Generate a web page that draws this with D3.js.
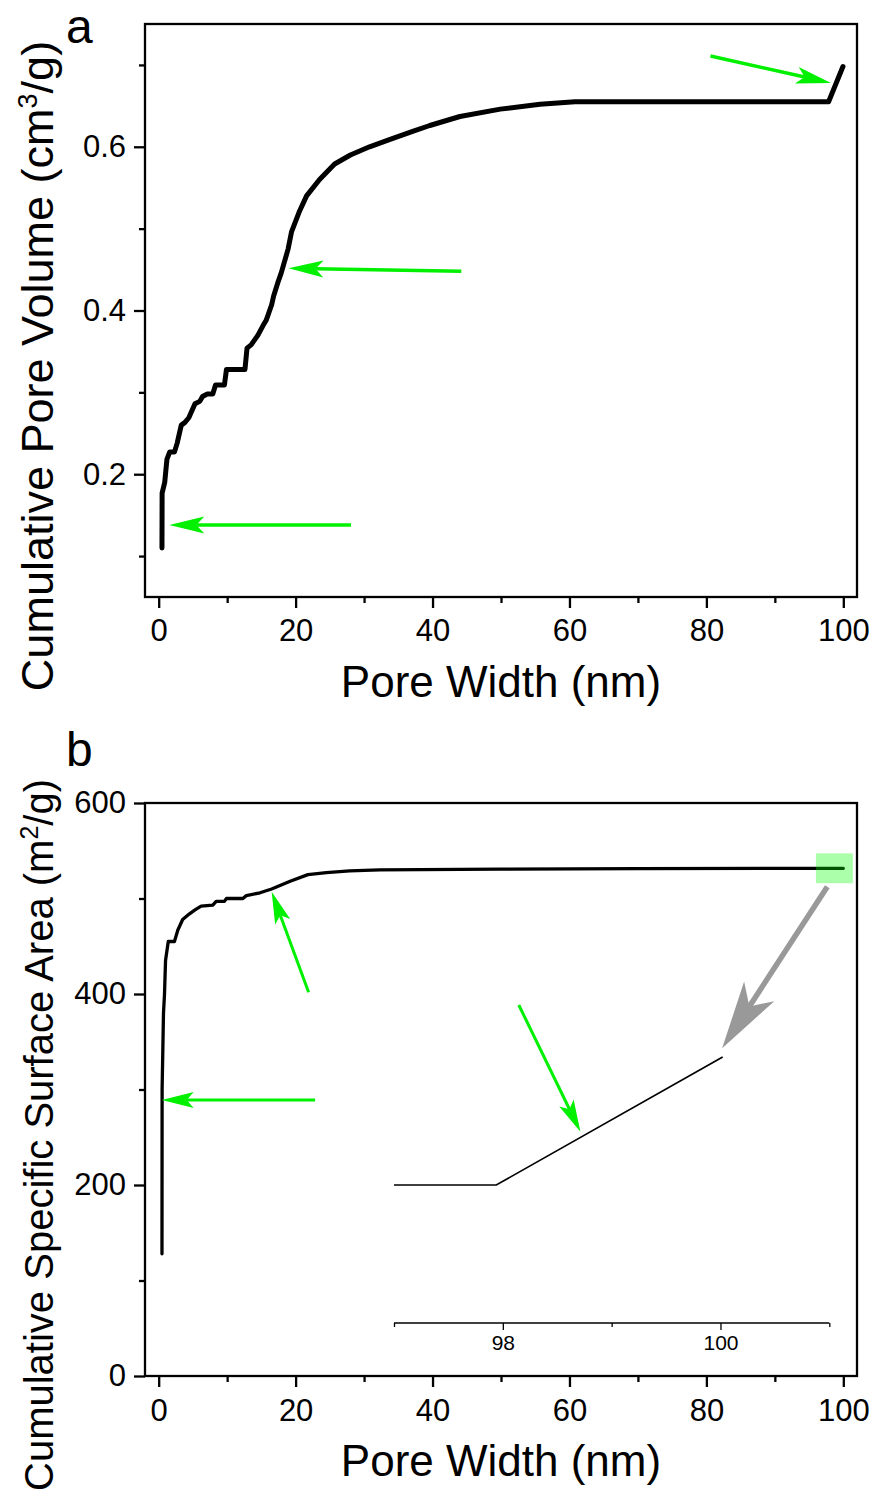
<!DOCTYPE html>
<html lang="en">
<head>
<meta charset="UTF-8">
<title>Pore volume and surface area</title>
<style>
  body { margin: 0; padding: 0; background: #fff; }
  svg text { font-family: "Liberation Sans", Arial, sans-serif; fill: #000; }
</style>
</head>
<body>
<script src="https://d3js.org/d3.v7.min.js"></script>
<script>
// panel a : cumulative pore volume
const widthA = [0.48, 0.5, 0.88, 1.2, 1.6, 2.3, 2.7, 3.3, 3.8, 4.4, 5.3, 6.0, 6.4, 7.1, 7.9, 8.3, 9.6, 9.9,
  12.6, 12.9, 13.5, 14.5, 15.2, 15.7, 16.5, 16.8, 17.4, 17.9, 18.9, 19.4, 20.5, 21.6, 23.5, 25.7, 28,
  30.8, 33.8, 37.2, 39.6, 44, 49.9, 55.7, 60.8, 97.85, 99.95];
const volumeA = [0.11, 0.177, 0.19, 0.218, 0.227, 0.227, 0.238, 0.26, 0.263, 0.269, 0.286, 0.289, 0.295,
  0.298, 0.298, 0.309, 0.309, 0.328, 0.328, 0.354, 0.358, 0.37, 0.381, 0.388, 0.407, 0.418, 0.434, 0.446,
  0.475, 0.496, 0.52, 0.54, 0.56, 0.579, 0.59, 0.6, 0.609, 0.619, 0.626, 0.637, 0.646, 0.652, 0.655,
  0.655, 0.698];
// panel b : cumulative specific surface area
const widthB = [0.48, 0.5, 0.7, 0.85, 1.0, 1.4, 2.3, 2.8, 3.5, 4.5, 5.3, 6.2, 7.9, 8.4, 9.6, 9.9, 12.3,
  12.8, 14.8, 16.5, 19.2, 21.8, 24.5, 27.9, 32.3, 50, 70, 100];
const areaB = [128, 300, 380, 400, 435, 455, 455, 467, 478, 484, 488, 492, 493, 497, 497, 500, 500, 503,
  506, 510, 518, 525, 527, 529, 530, 530.8, 531.2, 531.6];
// inset (zoom of the end of curve b)
const insetWidth = [97, 97.94, 100.02];
const insetArea = [531.0, 531.0, 531.6];

const xTicks = [0, 20, 40, 60, 80, 100];
const xMinor = [10, 30, 50, 70, 90];
const yTicksA = [0.2, 0.4, 0.6];
const yMinorA = [0.1, 0.3, 0.5, 0.7];
const yTicksB = [0, 200, 400, 600];
const yMinorB = [100, 300, 500];
const insetTicks = [98, 100];
const insetMinor = [97, 99, 101];

// annotation arrows, in data units
const arrowsA = [
  { x1: 44.2, y1: 0.448, x2: 18.95, y2: 0.4515 },
  { x1: 28.1, y1: 0.138, x2: 1.55, y2: 0.138 },
  { x1: 80.6, y1: 0.711, x2: 98.2, y2: 0.678 }
];
const arrowsB = [
  { x1: 21.9, y1: 401.8, x2: 16.5, y2: 507.1 },
  { x1: 22.85, y1: 289, x2: 0.44, y2: 289 },
  { x1: 52.6, y1: 388.5, x2: 61.6, y2: 255.8 }
];
const greyArrow = { x1: 97.66, y1: 512.4, x2: 82.3, y2: 343.1 };
const highlight = { x0: 96.0, x1: 101.4, y0: 516, y1: 547.3 };

const W = 874, H = 1493;
const svg = d3.select('body').append('svg').attr('width', W).attr('height', H);

const left = 145, right = 857;
const xA = d3.scaleLinear().domain([-2, 102]).range([left, right]);
const yA = d3.scaleLinear().domain([0.05, 0.75]).range([597, 24]);
const xB = d3.scaleLinear().domain([-2, 102]).range([left, right]);
const yB = d3.scaleLinear().domain([0, 600]).range([1376, 803]);
const xIn = d3.scaleLinear().domain([97, 101]).range([394, 829.3]);
const yIn = d3.scaleLinear().domain([531.0, 531.6]).range([1185, 1057]);

function styleAxis(g, fs) {
  g.select('.domain').remove();
  g.selectAll('line').attr('stroke', '#000').attr('stroke-width', 2.3);
  g.selectAll('text').attr('font-size', fs).attr('fill', '#000')
    .style('font-family', '"Liberation Sans", Arial, sans-serif');
}

function drawPanel(x, y, yTicks, yMinor, yFmt, labelPad) {
  const [y0, y1] = y.range();
  svg.append('g').attr('transform', `translate(0,${y0})`)
    .call(d3.axisBottom(x).tickValues(xTicks).tickSize(11).tickPadding(labelPad).tickFormat(d3.format('d')))
    .call(g => styleAxis(g, 31));
  svg.append('g').attr('transform', `translate(0,${y0})`)
    .call(d3.axisBottom(x).tickValues(xMinor).tickSize(6).tickFormat(''))
    .call(g => styleAxis(g, 31));
  svg.append('g').attr('transform', `translate(${left},0)`)
    .call(d3.axisLeft(y).tickValues(yTicks).tickSize(11).tickPadding(8).tickFormat(yFmt))
    .call(g => styleAxis(g, 31));
  svg.append('g').attr('transform', `translate(${left},0)`)
    .call(d3.axisLeft(y).tickValues(yMinor).tickSize(6).tickFormat(''))
    .call(g => styleAxis(g, 31));
  svg.append('rect')
    .attr('x', left).attr('y', y1)
    .attr('width', right - left).attr('height', y0 - y1)
    .attr('fill', 'none').attr('stroke', '#000').attr('stroke-width', 2.3);
}

function arrow(g, p, x, y, color, sw, headLen, halfW, notch) {
  const tx = x(p.x2), ty = y(p.y2), sx = x(p.x1), sy = y(p.y1);
  const ang = Math.atan2(ty - sy, tx - sx);
  const ux = Math.cos(ang), uy = Math.sin(ang);
  const nx = -uy, ny = ux;
  const bx = tx - ux * headLen, by = ty - uy * headLen;
  const mx = tx - ux * notch, my = ty - uy * notch;
  g.append('line')
    .attr('x1', sx).attr('y1', sy).attr('x2', mx).attr('y2', my)
    .attr('stroke', color).attr('stroke-width', sw);
  g.append('path')
    .attr('d', `M${tx},${ty}L${bx + nx * halfW},${by + ny * halfW}L${mx},${my}L${bx - nx * halfW},${by - ny * halfW}Z`)
    .attr('fill', color);
}

// ---- panel a
drawPanel(xA, yA, yTicksA, yMinorA, d3.format('.1f'), 11);
svg.append('path')
  .datum(widthA.map((d, i) => [d, volumeA[i]]))
  .attr('d', d3.line().x(d => xA(d[0])).y(d => yA(d[1])))
  .attr('fill', 'none').attr('stroke', '#000').attr('stroke-width', 5)
  .attr('stroke-linejoin', 'round').attr('stroke-linecap', 'round');
const annA = svg.append('g');
arrowsA.forEach(a => arrow(annA, a, xA, yA, '#00f000', 3.5, 35, 8.5, 27));

svg.append('text').attr('x', 66).attr('y', 43).attr('font-size', 48).text('a');
svg.append('text').attr('x', 501).attr('y', 697).attr('font-size', 44)
  .attr('text-anchor', 'middle').text('Pore Width (nm)');
const tA = svg.append('text').attr('transform', 'translate(53,366) rotate(-90)')
  .attr('font-size', 45).attr('text-anchor', 'middle');
tA.append('tspan').text('Cumulative Pore Volume (cm');
tA.append('tspan').attr('dy', -16).attr('font-size', 27).text('3');
tA.append('tspan').attr('dy', 16).text('/g)');

// ---- panel b
drawPanel(xB, yB, yTicksB, yMinorB, d3.format('d'), 12);
svg.append('path')
  .datum(widthB.map((d, i) => [d, areaB[i]]))
  .attr('d', d3.line().x(d => xB(d[0])).y(d => yB(d[1])))
  .attr('fill', 'none').attr('stroke', '#000').attr('stroke-width', 3.3)
  .attr('stroke-linejoin', 'round').attr('stroke-linecap', 'round');

svg.append('rect')
  .attr('x', xB(highlight.x0)).attr('y', yB(highlight.y1))
  .attr('width', xB(highlight.x1) - xB(highlight.x0))
  .attr('height', yB(highlight.y0) - yB(highlight.y1))
  .attr('fill', '#00ff00').attr('fill-opacity', 0.33);

// inset
svg.append('path')
  .datum(insetWidth.map((d, i) => [d, insetArea[i]]))
  .attr('d', d3.line().x(d => xIn(d[0])).y(d => yIn(d[1])))
  .attr('fill', 'none').attr('stroke', '#000').attr('stroke-width', 1.7);
const insetAxis = svg.append('g').attr('transform', 'translate(0,1323)')
  .call(d3.axisBottom(xIn).tickValues(insetTicks).tickSize(7).tickPadding(5).tickFormat(d3.format('d')));
insetAxis.select('.domain').attr('stroke', '#000').attr('stroke-width', 1.3).attr('d', `M${xIn(97)},0H${xIn(101)}`);
insetAxis.selectAll('line').attr('stroke', '#000').attr('stroke-width', 1.3);
insetAxis.selectAll('text').attr('font-size', 21).attr('fill', '#000')
  .style('font-family', '"Liberation Sans", Arial, sans-serif');
const insetMinorAxis = svg.append('g').attr('transform', 'translate(0,1323)')
  .call(d3.axisBottom(xIn).tickValues(insetMinor).tickSize(4).tickFormat(''));
insetMinorAxis.select('.domain').remove();
insetMinorAxis.selectAll('line').attr('stroke', '#000').attr('stroke-width', 1.3);

const annB = svg.append('g');
arrowsB.forEach(a => arrow(annB, a, xB, yB, '#00f000', 3, 32, 8, 25));
arrow(annB, greyArrow, xB, yB, '#999999', 5.5, 68, 18, 50);

svg.append('text').attr('x', 66).attr('y', 766).attr('font-size', 48).text('b');
svg.append('text').attr('x', 501).attr('y', 1476).attr('font-size', 44)
  .attr('text-anchor', 'middle').text('Pore Width (nm)');
const tB = svg.append('text').attr('transform', 'translate(53,1135) rotate(-90)')
  .attr('font-size', 40).attr('text-anchor', 'middle');
tB.append('tspan').text('Cumulative Specific Surface Area (m');
tB.append('tspan').attr('dy', -15).attr('font-size', 25).text('2');
tB.append('tspan').attr('dy', 15).text('/g)');
</script>
</body>
</html>
